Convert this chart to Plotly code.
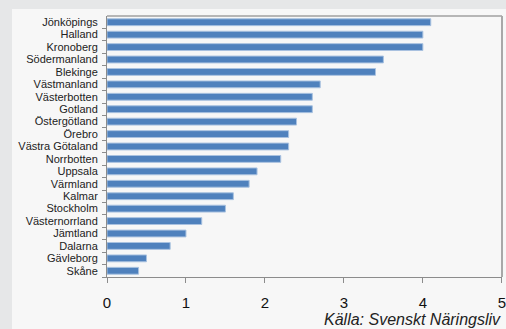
import plotly.graph_objects as go

regions = ["Jönköpings", "Halland", "Kronoberg", "Södermanland", "Blekinge",
           "Västmanland", "Västerbotten", "Gotland", "Östergötland", "Örebro",
           "Västra Götaland", "Norrbotten", "Uppsala", "Värmland", "Kalmar",
           "Stockholm", "Västernorrland", "Jämtland", "Dalarna", "Gävleborg", "Skåne"]
values = [4.1, 4.0, 4.0, 3.5, 3.4, 2.7, 2.6, 2.6, 2.4, 2.3, 2.3, 2.2, 1.9, 1.8,
          1.6, 1.5, 1.2, 1.0, 0.8, 0.5, 0.4]
x_ticks = [0, 1, 2, 3, 4, 5]
source = "Källa: Svenskt Näringsliv"

W, H = 506, 329
L, R, T, B = 107, 4, 16, 52
pw, ph = W - L - R, H - T - B

fig = go.Figure(go.Bar(
    x=values[::-1], y=regions[::-1], orientation="h",
    marker=dict(color="#4f81bd", line=dict(color="#a9c2e0", width=1)),
))

fig.update_layout(
    width=W, height=H,
    margin=dict(l=L, r=R, t=T, b=B, pad=0, autoexpand=False),
    paper_bgcolor="#e6e7e8",
    plot_bgcolor="#f7f7f7",
    bargap=0.45,
    showlegend=False,
    font=dict(family="Liberation Sans, Arial, sans-serif", color="#222222"),
    xaxis=dict(
        range=[0, 5.002], tickmode="array", tickvals=x_ticks,
        ticktext=[str(v) for v in x_ticks], automargin=False,
        showgrid=False, zeroline=False,
        showline=True, linecolor="#8c8c8c", linewidth=1, mirror=False,
        ticks="outside", ticklen=5, tickcolor="#8c8c8c",
        ticklabelstandoff=7, ticklabeloverflow="allow",
        tickfont=dict(size=15, color="#111111"),
    ),
    yaxis=dict(
        tickmode="array", tickvals=regions, ticktext=regions, automargin=False,
        showgrid=False, zeroline=False, showline=True, linecolor="#8c8c8c",
        linewidth=1, ticks="outside", ticklen=4, tickcolor="#8c8c8c",
        tickson="boundaries", tickfont=dict(size=11, color="#222222"),
        ticklabelstandoff=6,
        range=[-0.5, len(regions) - 0.5],
    ),
    shapes=[
        dict(type="rect", xref="paper", yref="paper",
             x0=(12 - L) / pw, x1=(W - L + 10) / pw,
             y0=-(B + 10) / ph, y1=1 + (T - 9) / ph,
             fillcolor="#f7f7f7", line=dict(width=0), layer="below"),
        dict(type="line", xref="paper", yref="paper", x0=0, x1=1, y0=1, y1=1,
             line=dict(color="#a0a0a0", width=1.5)),
        dict(type="line", xref="paper", yref="paper", x0=1, x1=1, y0=0, y1=1,
             line=dict(color="#a8a8a8", width=2)),
    ],
    annotations=[
        dict(text=source, xref="paper", yref="paper", x=1.003,
             y=-(319 - (T + ph)) / ph,
             xanchor="right", yanchor="middle", showarrow=False,
             font=dict(size=16, color="#222222", style="italic",
                       family="Liberation Sans, Arial, sans-serif"),
             )
    ],
)

fig.write_html("out.html")
